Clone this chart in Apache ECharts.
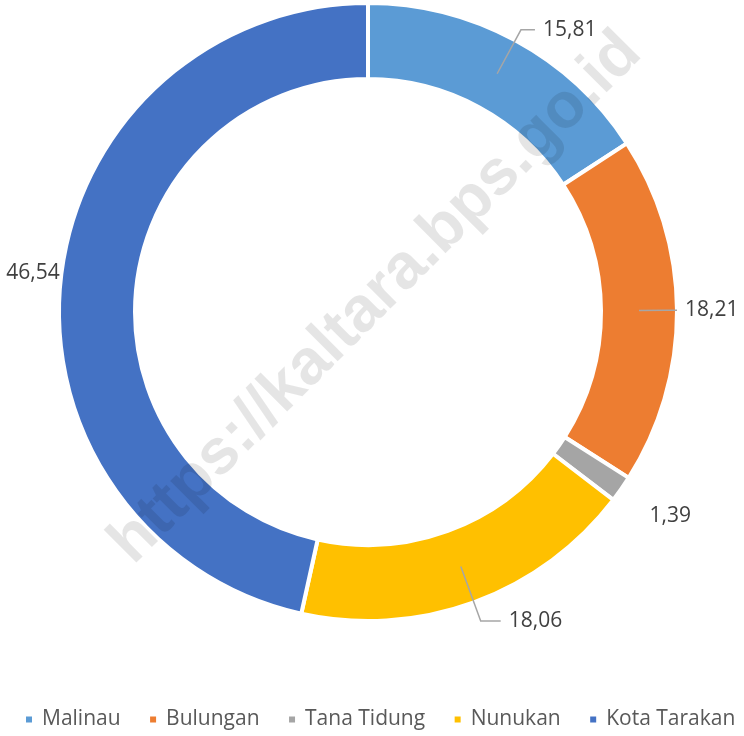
<!DOCTYPE html>
<html>
<head>
<meta charset="utf-8">
<script src="https://cdn.jsdelivr.net/npm/echarts@6/dist/echarts.min.js"></script>
<style>
html,body{margin:0;padding:0;background:#fff;}
#chart{width:744px;height:736px;}
</style>
</head>
<body>
<div id="chart"></div>
<script>
var categories = ['Malinau', 'Bulungan', 'Tana Tidung', 'Nunukan', 'Kota Tarakan'];
var values = [15.81, 18.21, 1.39, 18.06, 46.54];
var labelTexts = ['15,81', '18,21', '1,39', '18,06', '46,54'];
var colors = ['#5B9BD5', '#ED7D31', '#A5A5A5', '#FFC000', '#4472C4'];
var lineLen = [50, 28, 59, 58, 31];
var lineLen2 = [14, 10, 15, 20, 0];
var lineShow = [true, true, false, true, false];
var labelShiftX = [0, -2, -12, -2, 0];
var labelShiftY = [0, 0, 15, 0, -6];

var chart = echarts.init(document.getElementById('chart'));
var fontFam = '"Open Sans", sans-serif';

var mainData = categories.map(function (c, i) {
  return { name: c, value: values[i], itemStyle: { color: colors[i] } };
});
var labelData = categories.map(function (c, i) {
  return {
    name: c, value: values[i],
    label: { formatter: labelTexts[i] },
    labelLine: { show: lineShow[i], length: lineLen[i], length2: lineLen2[i] }
  };
});

chart.setOption({
  animation: false,
  backgroundColor: '#ffffff',
  legend: {
    bottom: 1,
    left: 19,
    icon: 'rect',
    itemWidth: 8,
    itemHeight: 8,
    itemGap: 27.5,
    data: categories,
    textStyle: { fontFamily: fontFam, fontSize: 21, color: '#595959', padding: [0, 0, 0, 4] }
  },
  series: [
    {
      type: 'pie',
      name: 'main',
      z: 2,
      center: [368, 312],
      radius: [233, 309],
      startAngle: 90,
      clockwise: true,
      silent: true,
      avoidLabelOverlap: false,
      label: { show: false },
      labelLine: { show: false },
      itemStyle: { borderColor: '#ffffff', borderWidth: 4 },
      emphasis: { disabled: true },
      data: mainData
    },
    {
      type: 'pie',
      name: 'labels',
      z: 10,
      center: [368, 312],
      radius: [0, 271],
      startAngle: 90,
      clockwise: true,
      silent: true,
      avoidLabelOverlap: false,
      itemStyle: { color: 'rgba(0,0,0,0)' },
      emphasis: { disabled: true },
      label: {
        show: true,
        position: 'outside',
        fontFamily: fontFam,
        fontSize: 21,
        color: '#404040',
        distanceToLabelLine: 8
      },
      labelLine: { lineStyle: { color: '#A6A6A6', width: 1.5 } },
      labelLayout: function (params) {
        var i = params.dataIndex;
        if (lineShow[i]) { return {}; }
        return { dx: labelShiftX[i], dy: labelShiftY[i] };
      },
      data: labelData
    }
  ],
  graphic: [{
    type: 'text',
    x: 376,
    y: 298,
    rotation: Math.PI / 4,
    z: 100,
    silent: true,
    style: {
      text: 'https://kaltara.bps.go.id',
      font: 'bold 64px "Liberation Sans", Arial, sans-serif',
      fill: 'rgba(0,0,0,0.1)',
      textAlign: 'center',
      textVerticalAlign: 'middle',
      align: 'center',
      verticalAlign: 'middle'
    }
  }]
});
</script>
</body>
</html>
